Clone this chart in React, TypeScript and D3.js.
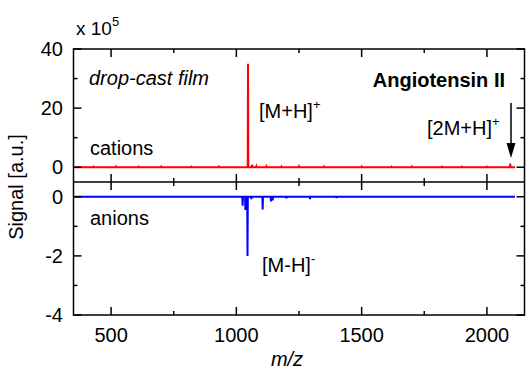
import React from "react";
import * as d3 from "d3";

const mzRange = [355, 2112];
const cationPeaks: [number, number][] = [
  [430, 0.15], [520, 0.2], [610, 0.15], [700, 0.2], [820, 0.15], [930, 0.2],
  [1046.5, 35], [1063, 0.9], [1080, 0.3], [1120, 0.25], [1180, 0.2], [1250, 0.25],
  [1350, 0.2], [1500, 0.2], [1620, 0.15], [1700, 0.2], [1820, 0.15], [1900, 0.15],
  [2000, 0.15], [2093, 1.2],
];
const anionPeaks: [number, number][] = [
  [1025, -0.3], [1036, -0.45], [1044.5, -2.0], [1060, -0.08], [1105, -0.43],
  [1138, -0.16], [1145, -0.12], [1200, -0.05], [1294, -0.08], [1400, -0.04],
];
const xTicks = [500, 1000, 1500, 2000];
const xMinor = [750, 1250, 1750];
const topTicks = [0, 20, 40];
const topMinor = [10, 30];
const botTicks = [-4, -2, 0];
const botMinor = [-3, -1];

const W = 526, H = 369;
const L = 73.5, R = 524.5;
const x = d3.scaleLinear().domain([350, 2150]).range([L, R]);
const yTop = d3.scaleLinear().domain([-5, 40]).range([182, 49]);
const yBot = d3.scaleLinear().domain([-4, 0.5]).range([315, 182]);

function stickPoints(peaks: [number, number][]) {
  const pts: [number, number][] = [[mzRange[0], 0]];
  const w = 1.2;
  peaks.forEach(([m, v]) => {
    pts.push([m - w, 0], [m, v], [m + w, 0]);
  });
  pts.push([mzRange[1], 0]);
  return pts;
}

const font = "'Liberation Sans', Arial, sans-serif";

export default function App() {
  const lineTop = d3.line<[number, number]>().x((d) => x(d[0])).y((d) => yTop(d[1]));
  const lineBot = d3.line<[number, number]>().x((d) => x(d[0])).y((d) => yBot(d[1]));
  const top = 49, mid = 182, bot = 315;
  const maj = 8, mnr = 4;
  const tickStyle = { stroke: "#000", strokeWidth: 1.5 };
  return (
    <svg width={W} height={H} style={{ position: "absolute", left: 0, top: 0 }} fontFamily={font}>
      <rect width={W} height={H} fill="#fff" />
      {/* spectra */}
      <path d={lineTop(stickPoints(cationPeaks)) || ""} fill="none" stroke="#ff0000" strokeWidth={2} />
      <path d={lineBot(stickPoints(anionPeaks)) || ""} fill="none" stroke="#0000ff" strokeWidth={2} />
      {/* frames */}
      <rect x={L} y={top} width={R - L} height={bot - top} fill="none" stroke="#000" strokeWidth={1.5} />
      <line x1={L} x2={R} y1={mid} y2={mid} stroke="#000" strokeWidth={1.5} />
      {/* x ticks */}
      {xTicks.map((t) => (
        <g key={"x" + t}>
          <line x1={x(t)} x2={x(t)} y1={top} y2={top + maj} {...tickStyle} />
          <line x1={x(t)} x2={x(t)} y1={mid - maj} y2={mid + maj} {...tickStyle} />
          <line x1={x(t)} x2={x(t)} y1={bot} y2={bot - maj} {...tickStyle} />
          <text x={x(t)} y={342} fontSize={20} textAnchor="middle">{t}</text>
        </g>
      ))}
      {xMinor.map((t) => (
        <g key={"xm" + t}>
          <line x1={x(t)} x2={x(t)} y1={top} y2={top + mnr} {...tickStyle} />
          <line x1={x(t)} x2={x(t)} y1={mid - mnr} y2={mid + mnr} {...tickStyle} />
          <line x1={x(t)} x2={x(t)} y1={bot} y2={bot - mnr} {...tickStyle} />
        </g>
      ))}
      {/* y ticks top */}
      {topTicks.map((t) => (
        <g key={"yt" + t}>
          <line x1={L} x2={L + maj} y1={yTop(t)} y2={yTop(t)} {...tickStyle} />
          <line x1={R} x2={R - maj} y1={yTop(t)} y2={yTop(t)} {...tickStyle} />
          <text x={63} y={yTop(t) + 7} fontSize={20} textAnchor="end">{t}</text>
        </g>
      ))}
      {topMinor.map((t) => (
        <g key={"ytm" + t}>
          <line x1={L} x2={L + mnr} y1={yTop(t)} y2={yTop(t)} {...tickStyle} />
          <line x1={R} x2={R - mnr} y1={yTop(t)} y2={yTop(t)} {...tickStyle} />
        </g>
      ))}
      {botTicks.map((t) => (
        <g key={"yb" + t}>
          <line x1={L} x2={L + maj} y1={yBot(t)} y2={yBot(t)} {...tickStyle} />
          <line x1={R} x2={R - maj} y1={yBot(t)} y2={yBot(t)} {...tickStyle} />
          <text x={63} y={yBot(t) + 7} fontSize={20} textAnchor="end">{t}</text>
        </g>
      ))}
      {botMinor.map((t) => (
        <g key={"ybm" + t}>
          <line x1={L} x2={L + mnr} y1={yBot(t)} y2={yBot(t)} {...tickStyle} />
          <line x1={R} x2={R - mnr} y1={yBot(t)} y2={yBot(t)} {...tickStyle} />
        </g>
      ))}
      {/* labels */}
      <text x={76} y={35} fontSize={19}>
        x 10<tspan fontSize={13} dy={-9}>5</tspan>
      </text>
      <text x={89} y={85} fontSize={20} fontStyle="italic">drop-cast film</text>
      <text x={505} y={87} fontSize={20} fontWeight="bold" textAnchor="end">Angiotensin II</text>
      <text x={90} y={155} fontSize={20}>cations</text>
      <text x={90} y={225} fontSize={20}>anions</text>
      <text x={259} y={118} fontSize={20}>
        [M+H]<tspan fontSize={13} dy={-9}>+</tspan>
      </text>
      <text x={427} y={135} fontSize={20}>
        [2M+H]<tspan fontSize={13} dy={-9}>+</tspan>
      </text>
      <text x={262} y={272} fontSize={20}>
        [M-H]<tspan fontSize={13} dy={-9}>-</tspan>
      </text>
      <text transform="translate(23,187) rotate(-90)" fontSize={20} textAnchor="middle">Signal [a.u.]</text>
      <text x={287} y={366} fontSize={20} fontStyle="italic" textAnchor="middle">m/z</text>
      {/* arrow */}
      <line x1={511} x2={511} y1={103} y2={146} stroke="#000" strokeWidth={1.5} />
      <path d="M506.5,143 L515.5,143 L511,158 Z" fill="#000" />
    </svg>
  );
}
